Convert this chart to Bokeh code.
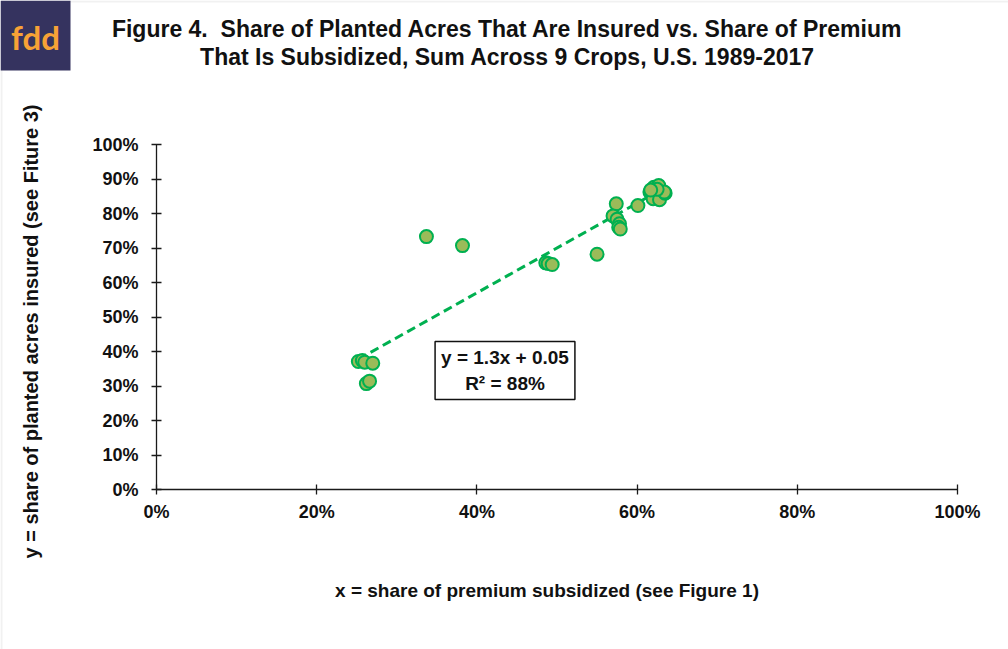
import math
from bokeh.plotting import figure
from bokeh.models import Range1d, NumeralTickFormatter, FixedTicker, Label, BoxAnnotation
from bokeh.embed import file_html
from bokeh.resources import INLINE

# ---------------- data ----------------
share_premium_subsidized = [0.252, 0.257, 0.260, 0.270, 0.262, 0.266, 0.337, 0.382,
                            0.486, 0.489, 0.494, 0.550, 0.574, 0.570, 0.575, 0.578,
                            0.577, 0.579, 0.601, 0.616, 0.621, 0.627, 0.619, 0.620,
                            0.628, 0.635, 0.634, 0.625, 0.617]
share_acres_insured = [0.371, 0.374, 0.369, 0.366, 0.307, 0.314, 0.733, 0.707,
                       0.657, 0.655, 0.652, 0.682, 0.828, 0.793, 0.783, 0.770,
                       0.760, 0.755, 0.823, 0.862, 0.876, 0.881, 0.850, 0.843,
                       0.840, 0.859, 0.862, 0.870, 0.868]
trend_slope = 1.3
trend_intercept = 0.05
trend_r2 = 0.88
x_ticks = [0.0, 0.2, 0.4, 0.6, 0.8, 1.0]
y_ticks = [0.0, 0.1, 0.2, 0.3, 0.4, 0.5, 0.6, 0.7, 0.8, 0.9, 1.0]

title_line1 = "Figure 4.\u00a0 Share of Planted Acres That Are Insured vs. Share of Premium"
title_line2 = "That Is Subsidized, Sum Across 9 Crops, U.S. 1989-2017"
x_label = "x = share of premium subsidized (see Figure 1)"
y_label = "y = share of planted acres insured (see Fiture 3)"

# ---------------- layout ----------------
W, H = 1008, 649
AX_X0, AX_X1 = 156, 957   # canvas px of x = 0 and x = 1
AX_Y0, AX_Y1 = 489, 144   # canvas px of y = 0 and y = 1
FONT = "Liberation Sans"


def dx(px):
    return (px - AX_X0) / (AX_X1 - AX_X0)


def dy(py):
    return (AX_Y0 - py) / (AX_Y0 - AX_Y1)


p = figure(width=W, height=H,
           x_range=Range1d(dx(0), dx(W)), y_range=Range1d(dy(H), dy(0)),
           output_backend="svg", toolbar_location=None,
           min_border_left=0, min_border_right=0, min_border_top=0, min_border_bottom=0)
p.title.visible = False
p.xgrid.visible = False
p.ygrid.visible = False
p.outline_line_color = None
p.background_fill_color = "white"
p.border_fill_color = "white"

for ax, ticks in ((p.xaxis[0], x_ticks), (p.yaxis[0], y_ticks)):
    ax.fixed_location = 0
    ax.bounds = (0, 1)
    ax.ticker = FixedTicker(ticks=ticks)
    ax.formatter = NumeralTickFormatter(format="0%")
    ax.minor_tick_line_color = None
    ax.major_tick_in = 5
    ax.major_tick_out = 5
    ax.axis_line_color = "#1a1a1a"
    ax.axis_line_width = 1.3
    ax.major_tick_line_color = "#1a1a1a"
    ax.major_tick_line_width = 1.3
    ax.major_label_text_font = FONT
    ax.major_label_text_font_style = "bold"
    ax.major_label_text_font_size = "18px"
    ax.major_label_text_color = "#111111"
p.xaxis.major_label_standoff = 7
p.yaxis.major_label_standoff = 13

# thin page border (top / left)
p.add_layout(BoxAnnotation(left=dx(1), right=dx(W + 5), top=dy(1), bottom=dy(H + 5),
                           fill_color=None, line_color="#cfcfcf", line_width=2))

# trend line
xs = [min(share_premium_subsidized), max(share_premium_subsidized)]
ys = [trend_slope * v + trend_intercept for v in xs]
p.line(xs, ys, line_color="#00b050", line_width=3, line_dash="9 5")

# points
p.scatter(share_premium_subsidized, share_acres_insured, size=13,
          fill_color="#9bbb59", line_color="#00b050", line_width=2)

# regression annotation
p.add_layout(Label(x=dx(504.5), y=dy(370),
                   text=f"y = {trend_slope}x + {trend_intercept}\nR\u00b2 = {round(trend_r2*100)}%",
                   text_align="center", text_baseline="middle",
                   text_font=FONT, text_font_style="bold", text_font_size="19px",
                   text_color="#111111",
                   border_line_color="#111111", border_line_width=1.5,
                   background_fill_color="white", padding=6))

# title
for txt, py in ((title_line1, 28.5), (title_line2, 56.5)):
    p.add_layout(Label(x=dx(507), y=dy(py), text=txt, text_align="center",
                       text_baseline="middle", text_font=FONT,
                       text_font_style="bold", text_font_size="23px", text_color="#111111"))

# axis labels
p.add_layout(Label(x=dx(546.5), y=dy(590), text=x_label, text_align="center",
                   text_baseline="middle", text_font=FONT, text_font_style="bold",
                   text_font_size="19px", text_color="#111111"))
p.add_layout(Label(x=dx(30), y=dy(331), text=y_label, text_align="center",
                   text_baseline="middle", angle=math.pi / 2, text_font=FONT,
                   text_font_style="bold", text_font_size="20px", text_color="#111111"))

# logo
p.add_layout(BoxAnnotation(left=dx(0), right=dx(70), top=dy(0), bottom=dy(70),
                           fill_color="#35335f", fill_alpha=1.0, line_color=None))
p.add_layout(Label(x=dx(35), y=dy(36), text="fdd", text_align="center",
                   text_baseline="middle", text_font="Lato", text_font_style="bold",
                   text_font_size="33px", text_color="#f7a236"))

open("out.html", "w").write(file_html(p, INLINE))
